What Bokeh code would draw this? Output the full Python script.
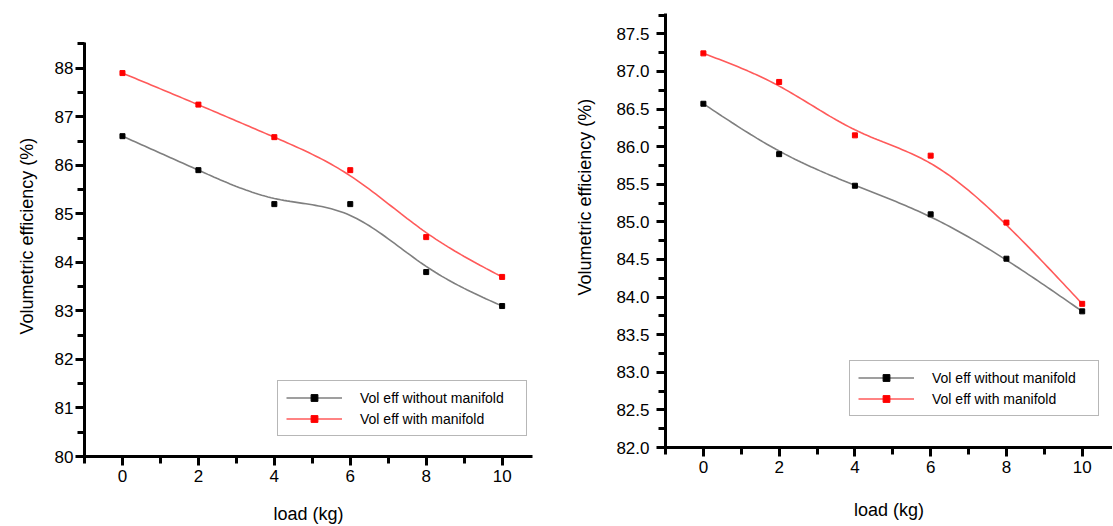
import numpy as np
from bokeh.plotting import figure
from bokeh.models import (Range1d, SingleIntervalTicker, NumeralTickFormatter,
                          Legend, LegendItem, Title)
from bokeh.core.templates import get_env
from bokeh.embed import file_html
from bokeh.resources import INLINE

# ---------------- data ----------------
load = [0, 2, 4, 6, 8, 10]
left_without = [86.6, 85.9, 85.2, 85.2, 83.8, 83.1]
left_with = [87.9, 87.25, 86.58, 85.9, 84.52, 83.7]
right_without = [86.57, 85.9, 85.48, 85.1, 84.51, 83.81]
right_with = [87.24, 86.86, 86.15, 85.88, 84.99, 83.91]
series_labels = ["Vol eff without manifold", "Vol eff with manifold"]
x_title = "load (kg)"
y_title = "Volumetric efficiency (%)"

FONT = "Liberation Sans"


def bspline(xs, ys, n=24):
    """Uniform cubic B-spline connection (data points used as control points)."""
    P = np.column_stack([xs, ys]).astype(float)
    P = np.vstack([2 * P[0] - P[1], P, 2 * P[-1] - P[-2]])
    t = np.linspace(0, 1, n, endpoint=False)
    b0 = (1 - t) ** 3 / 6
    b1 = (3 * t ** 3 - 6 * t ** 2 + 4) / 6
    b2 = (-3 * t ** 3 + 3 * t ** 2 + 3 * t + 1) / 6
    b3 = t ** 3 / 6
    segs = []
    for i in range(1, len(P) - 2):
        seg = (b0[:, None] * P[i - 1] + b1[:, None] * P[i] +
               b2[:, None] * P[i + 1] + b3[:, None] * P[i + 2])
        segs.append(seg)
    segs.append(P[-2][None, :])
    c = np.vstack(segs)
    return c[:, 0], c[:, 1]


def make_panel(width, height, yr, y_interval, y_fmt, borders, legend_loc,
               without, with_, ytitle_offset, ytitle_standoff, xtitle_standoff,
               ylab_standoff):
    bl, br, bt, bb = borders
    p = figure(width=width, height=height, x_range=Range1d(-1, 10.8),
               y_range=Range1d(*yr), output_backend="svg",
               toolbar_location=None, min_border_left=bl, min_border_right=br,
               min_border_top=bt, min_border_bottom=bb)
    p.outline_line_color = None
    p.grid.visible = False
    p.background_fill_color = "white"
    p.border_fill_color = "white"

    p.xaxis.ticker = SingleIntervalTicker(interval=2, num_minor_ticks=2)
    p.yaxis.ticker = SingleIntervalTicker(interval=y_interval, num_minor_ticks=2)
    if y_fmt:
        p.yaxis.formatter = NumeralTickFormatter(format=y_fmt)
    for ax in (p.xaxis, p.yaxis):
        ax.axis_line_width = 3
        ax.axis_line_color = "black"
        ax.major_tick_line_width = 3
        ax.minor_tick_line_width = 3
        ax.major_tick_out = 9
        ax.major_tick_in = 0
        ax.minor_tick_out = 7
        ax.minor_tick_in = 0
        ax.major_label_text_font = FONT
        ax.major_label_text_font_size = "17px"
        ax.major_label_text_color = "black"
    p.xaxis.major_label_standoff = 4
    p.yaxis.major_label_standoff = ylab_standoff

    p.xaxis.axis_label = x_title
    p.xaxis.axis_label_text_font = FONT
    p.xaxis.axis_label_text_font_size = "18px"
    p.xaxis.axis_label_text_font_style = "normal"
    p.xaxis.axis_label_text_color = "black"
    p.xaxis.axis_label_standoff = xtitle_standoff

    # y title as a side title (lets it sit off-centre like the original)
    t = Title(text=y_title, align="left", offset=ytitle_offset,
              vertical_align="top", standoff=ytitle_standoff,
              text_font=FONT, text_font_size="18px", text_font_style="normal",
              text_color="black")
    p.add_layout(t, "left")

    xb, yb = bspline(load, without)
    xr, yr_ = bspline(load, with_)
    lb = p.line(xb, yb, line_color="#7f7f7f", line_width=1.6)
    sb = p.scatter(load, without, size=5, marker="square", color="black")
    lr = p.line(xr, yr_, line_color="#ff5a5a", line_width=1.6)
    sr = p.scatter(load, with_, size=5, marker="square", color="#ff0000")

    legend = Legend(items=[LegendItem(label=series_labels[0], renderers=[lb, sb]),
                           LegendItem(label=series_labels[1], renderers=[lr, sr])],
                    location=legend_loc)
    legend.margin = 0
    legend.padding = 8
    legend.spacing = 4
    legend.label_height = 17
    legend.glyph_height = 17
    legend.glyph_width = 56
    legend.label_standoff = 18
    legend.label_width = 158
    legend.label_text_font = FONT
    legend.label_text_font_size = "14px"
    legend.label_text_color = "black"
    legend.border_line_color = "#707070"
    legend.border_line_width = 1.5
    legend.background_fill_color = "white"
    legend.background_fill_alpha = 1.0
    p.add_layout(legend)
    return p


left = make_panel(558, 526, (80, 88.53), 1, None, (84, 26, 42, 69), (193, 20),
                  left_without, left_with, 122, 26, 19, 2)
right = make_panel(554, 526, (82, 87.77), 0.5, "0.0", (106, 0, 13, 79), (184, 31),
                   right_without, right_with, 152, 33, 24, 7)

# two independent roots placed side by side (no frame alignment between them)
TEMPLATE = get_env().from_string("""
{% extends "file.html" %}
{% block contents %}
<div style="display:flex; flex-direction:row; align-items:flex-start;">
{{ super() }}
</div>
{% endblock %}
""")

open("out.html", "w").write(file_html([left, right], INLINE, template=TEMPLATE))
